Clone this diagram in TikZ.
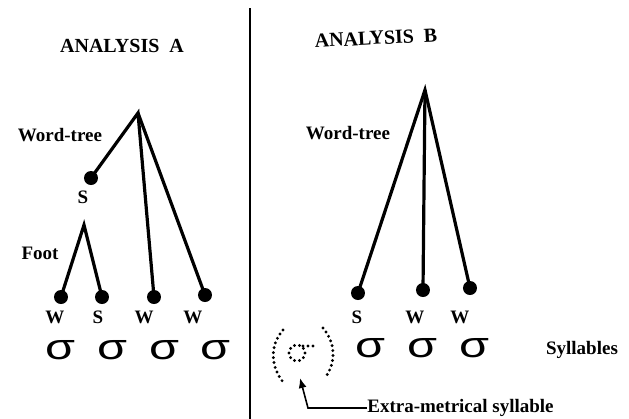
\documentclass[tikz,border=0pt]{standalone}
\usepackage{fontspec}
\setmainfont{Liberation Serif}
\newfontfamily\sigfont{Liberation Sans}
\usetikzlibrary{arrows.meta,positioning,calc}

\begin{document}
\begin{tikzpicture}[x=0.5pt,y=-0.5pt,
        lbl/.style={font=\fontsize{9.5}{11}\bfseries\selectfont,inner sep=0pt},
        head/.style={lbl,font=\fontsize{10}{11}\bfseries\selectfont},
        dot/.style={circle,fill=black,inner sep=0pt,minimum size=7pt},
        branch/.style={line width=1.6pt},
        syl/.style={inner sep=0pt,font=\sigfont\fontsize{18}{18}\selectfont,xscale=1.35},
        faint/.style={line width=1.6pt,line cap=round,dash pattern=on 0pt off 2.5pt},
        arrow/.style={-{Latex[length=5pt,width=4pt]},line width=0.8pt}
      ]
        \useasboundingbox (0,0) rectangle (629,419);
        \draw[line width=1pt] (250,8) -- (250,419);
        % analysis A
        \node[head] (headA) at (122,46) {ANALYSIS\ \ A};
        \coordinate (topA) at (138,113);
        \coordinate (footA) at (84,225);
        \node[dot] (a0) at (91,178) {};
        \node[dot] (a1) at (61,297) {};
        \node[dot] (a2) at (102,297) {};
        \node[dot] (a3) at (154,297) {};
        \node[dot] (a4) at (205,295) {};
        \draw[branch] (a0.center) -- (topA) -- (a3.center);
        \draw[branch] (topA) -- (a4.center);
        \draw[branch] (a1.center) -- (footA) -- (a2.center);
        \node[lbl] (wtA) at (60,135) {Word-tree};
        \node[lbl] (ftA) at (40,253) {Foot};
        \node[lbl] at (83,197) {S};
        \node[lbl] at (55,317) {W};
        \node[lbl] at (98,317) {S};
        \node[lbl] at (144,317) {W};
        \node[lbl] at (193,317) {W};
        \foreach \x/\n in {60/1,112/2,164/3,215/4}
          \node[syl] (sa\n) at (\x,350) {σ};
        % analysis B
        \node[head,rotate=3] (headB) at (376,38) {ANALYSIS\ \ B};
        \coordinate (topB) at (425,90);
        \node[dot] (b1) at (358,293) {};
        \node[dot] (b2) at (423,290) {};
        \node[dot] (b3) at (470,288) {};
        \draw[branch] (b1.center) -- (topB) -- (b3.center);
        \draw[branch] (topB) -- (b2.center);
        \node[lbl] (wtB) at (348,133) {Word-tree};
        \node[lbl] at (357,317) {S};
        \node[lbl] at (415,317) {W};
        \node[lbl] at (460,317) {W};
        \foreach \x/\n in {370/1,422/2,474/3}
          \node[syl] (sb\n) at (\x,348) {σ};
        \node[lbl] (sylls) at (582,350) {Syllables};
        % extra-metrical syllable
        \coordinate (xs) at (297,353);
        \draw[faint] (xs) circle (8);
        \draw[faint] ($(xs)+(6,-7)$) -- ($(xs)+(18,-7)$);
        \draw[faint] (283,330) .. controls (270,345) and (270,365) .. (283,382);
        \draw[faint] (323,328) .. controls (336,343) and (336,363) .. (325,378);
        \node[lbl,anchor=west] (extra) at (367,408) {Extra-metrical syllable};
        \draw[arrow] (extra.west) -- ++(-59,0) -- (300,378);
      \end{tikzpicture}
\end{document}
